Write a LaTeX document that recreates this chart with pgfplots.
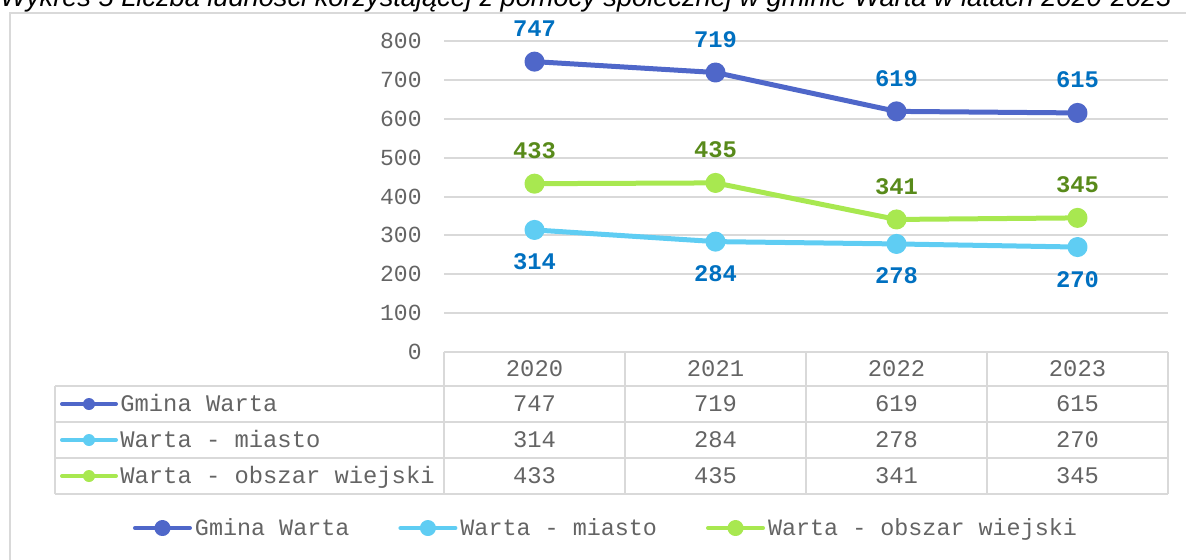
\documentclass[border=0pt]{standalone}
\usepackage{fontspec}
\setmainfont{Liberation Sans}
\setmonofont{Liberation Mono}
\usepackage{pgfplots}
\pgfplotsset{compat=1.18}
\definecolor{cGmina}{RGB}{79,103,201}
\definecolor{cMiasto}{RGB}{95,205,243}
\definecolor{cWies}{RGB}{168,232,80}
\definecolor{lblBlue}{RGB}{0,112,192}
\definecolor{lblGreen}{RGB}{88,138,26}
\definecolor{gridc}{RGB}{217,217,217}
\definecolor{txt}{RGB}{100,100,100}
\newcommand\tf{\fontsize{11.5}{13}\selectfont\ttfamily}
\newcommand\tff{\fontsize{11.9}{14}\selectfont\ttfamily}
\newcommand\tfl{\fontsize{11.7}{14}\selectfont\ttfamily}
\begin{document}
\begin{tikzpicture}[x=0.5pt,y=0.5pt]
\useasboundingbox (0,0) rectangle (1186,559);
\node[anchor=base west, inner sep=0pt, font=\fontsize{13.6}{15}\selectfont\itshape] at (0,553) {Wykres 5 Liczba ludności korzystającej z pomocy społecznej w gminie Warta w latach 2020-2023};
\draw[gridc, line width=1pt] (10,-5) -- (10,546) -- (1200,546);
\begin{axis}[at={(222pt,103.5pt)}, anchor=south west, scale only axis,
  width=362pt, height=155.5pt,
  xmin=-0.5, xmax=3.5, ymin=0, ymax=800,
  ytick={0,100,...,800}, xtick=\empty,
  ymajorgrids, major grid style={gridc, line width=1pt},
  axis line style={draw=none}, tick style={draw=none},
  /pgf/number format/assume math mode=true,
  yticklabel style={font=\tf, text=txt, inner sep=0pt, xshift=-11pt},
  clip=false,
  legend columns=3,
  legend style={at={(axis description cs:-0.4296,-0.566)}, anchor=west, draw=none, fill=none,
     inner sep=0pt, outer sep=0pt, font=\tfl, text=txt,
     nodes={inner sep=0pt, text height=7pt, text depth=0pt},
     /tikz/every odd column/.append style={column sep=1.5pt},
     /tikz/every even column/.append style={column sep=24.5pt}},
  legend cell align=left,
  legend image post style={mark size=3pt, line width=2pt},
  legend image code/.code={\draw[#1, mark repeat=2, mark phase=2] plot coordinates {(0pt,0pt) (13.75pt,0pt) (27.5pt,0pt)};},
  every node near coord/.append style={font=\tff\bfseries, anchor=center, text height=7pt, text depth=0pt},
]
\addplot[cGmina, line width=2.5pt, line join=round, line cap=round, mark=*, mark size=3.75pt, mark options={draw=none, fill=cGmina},
  nodes near coords, every node near coord/.append style={text=lblBlue, yshift=16pt}]
  coordinates {(0,747) (1,719) (2,619) (3,615)};
\addlegendentry{Gmina Warta}
\addplot[cMiasto, line width=2.5pt, line join=round, line cap=round, mark=*, mark size=3.75pt, mark options={draw=none, fill=cMiasto},
  nodes near coords, every node near coord/.append style={text=lblBlue, yshift=-16.5pt}]
  coordinates {(0,314) (1,284) (2,278) (3,270)};
\addlegendentry{Warta - miasto}
\addplot[cWies, line width=2.5pt, line join=round, line cap=round, mark=*, mark size=3.75pt, mark options={draw=none, fill=cWies},
  nodes near coords, every node near coord/.append style={text=lblGreen, yshift=16pt}]
  coordinates {(0,433) (1,435) (2,341) (3,345)};
\addlegendentry{Warta - obszar wiejski}
\end{axis}
% data table
\begin{scope}[gridc, line width=1pt]
\draw (444,207) -- (1168,207);
\foreach \yy in {173,137,101,65} \draw (55,\yy) -- (1168,\yy);
\draw (55,173) -- (55,65);
\foreach \xx in {444,625,806,987,1168} \draw (\xx,207) -- (\xx,65);
\end{scope}
\begin{scope}[every node/.style={font=\tff, text=txt, inner sep=0pt, text height=7pt, text depth=0pt, anchor=center}]
\foreach \x/\lab in {534.5/2020,715.5/2021,896.5/2022,1077.5/2023} \node at (\x,190) {\lab};
\foreach \x/\v in {534.5/747,715.5/719,896.5/619,1077.5/615} \node at (\x,155) {\v};
\foreach \x/\v in {534.5/314,715.5/284,896.5/278,1077.5/270} \node at (\x,119) {\v};
\foreach \x/\v in {534.5/433,715.5/435,896.5/341,1077.5/345} \node at (\x,83) {\v};
\node[anchor=west] at (120,155) {Gmina Warta};
\node[anchor=west] at (120,119) {Warta - miasto};
\node[anchor=west] at (120,83) {Warta - obszar wiejski};
\end{scope}
\draw[cGmina, line width=2pt, line cap=round] (62,155) -- (116,155);
\fill[cGmina] (89,155) circle (3pt);
\draw[cMiasto, line width=2pt, line cap=round] (62,119) -- (116,119);
\fill[cMiasto] (89,119) circle (3pt);
\draw[cWies, line width=2pt, line cap=round] (62,83) -- (116,83);
\fill[cWies] (89,83) circle (3pt);
\end{tikzpicture}
\end{document}
